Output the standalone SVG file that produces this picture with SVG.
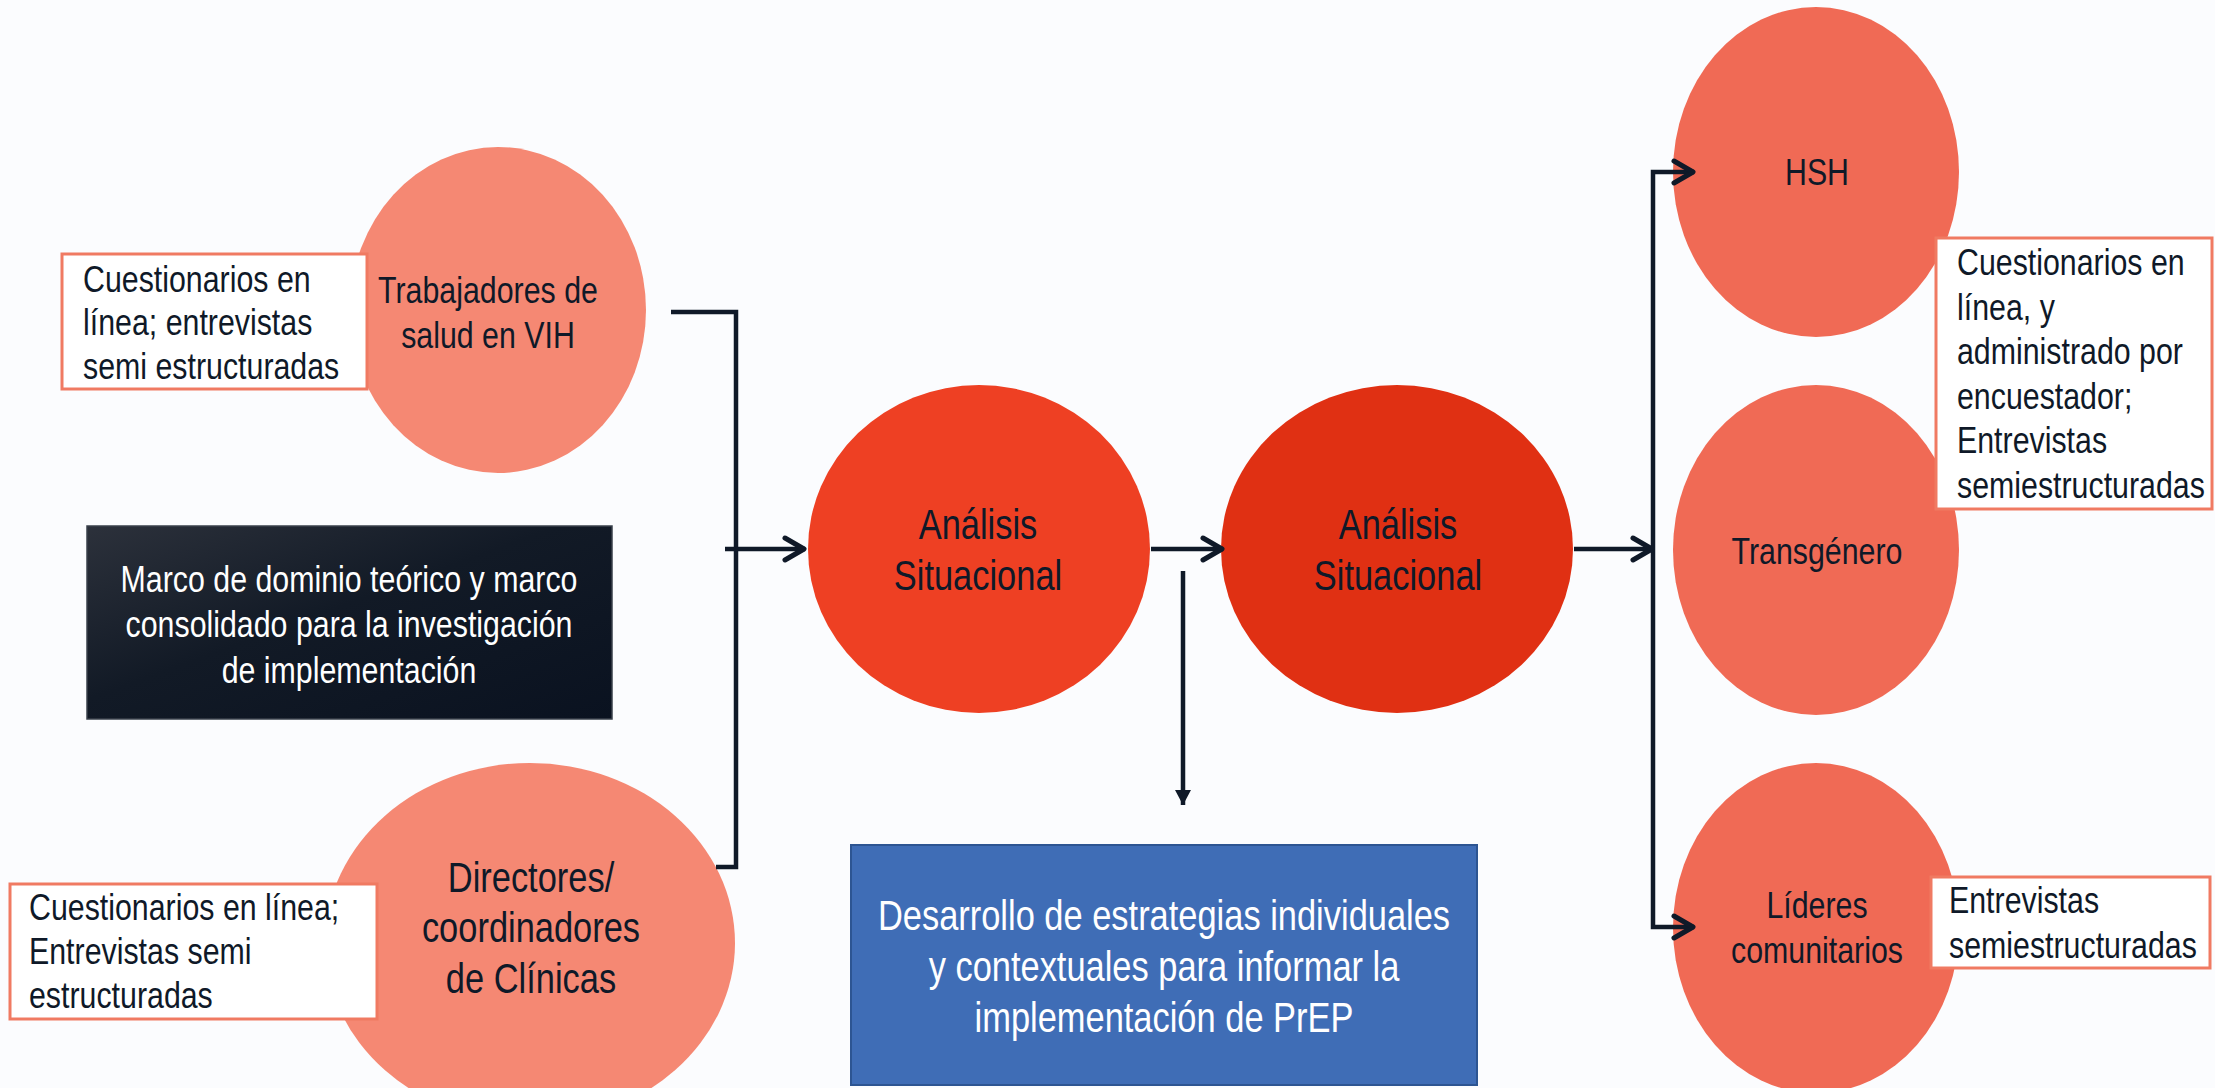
<svg xmlns="http://www.w3.org/2000/svg" width="2215" height="1088" viewBox="0 0 2215 1088">
<defs>
<linearGradient id="dark" x1="0" y1="0" x2="1" y2="1">
<stop offset="0" stop-color="#2C313B"/>
<stop offset="0.45" stop-color="#121A26"/>
<stop offset="1" stop-color="#0A1220"/>
</linearGradient>
<marker id="chev" markerUnits="userSpaceOnUse" viewBox="-28 -16 32 32" markerWidth="32" markerHeight="32" refX="0" refY="0" orient="auto">
<path d="M-20,-11 L-1,0 L-20,11" fill="none" stroke="#0F1928" stroke-width="5" stroke-linecap="round" stroke-linejoin="round"/>
</marker>
<marker id="tri" markerUnits="userSpaceOnUse" viewBox="-17 -10 19 20" markerWidth="19" markerHeight="20" refX="0" refY="0" orient="auto">
<path d="M-15,-8 L0,0 L-15,8 Z" fill="#0F1928"/>
</marker>
</defs>
<style>
.t{font-family:"Liberation Sans",Arial,sans-serif;fill:#0F1928}
.s{font-size:37px}
.l{font-size:42px}
.w{fill:#FFFFFF}
.c{text-anchor:middle}
.note{fill:#FFFFFF;stroke:#F07A62;stroke-width:3}
.conn{fill:none;stroke:#0F1928;stroke-width:4.5}
.pink{fill:#F58873}
.coral{fill:#F06A55}
</style>
<rect width="2215" height="1088" fill="#FBFCFE"/>

<g id="trabajadores">
<ellipse class="pink" cx="498" cy="310" rx="148" ry="163"/>
<text class="t s c" transform="translate(488,303) scale(0.82,1)"><tspan x="0">Trabajadores de</tspan><tspan x="0" dy="45">salud en VIH</tspan></text>
</g>
<g id="note-trabajadores">
<rect class="note" x="62" y="254" width="305" height="135"/>
<text class="t s" transform="translate(83,292) scale(0.82,1)"><tspan x="0">Cuestionarios en</tspan><tspan x="0" dy="43.5">línea; entrevistas</tspan><tspan x="0" dy="43.5">semi estructuradas</tspan></text>
</g>

<g id="directores">
<ellipse class="pink" cx="530" cy="943" rx="205" ry="180"/>
<text class="t l c" transform="translate(531,892) scale(0.82,1)"><tspan x="0">Directores/</tspan><tspan x="0" dy="50.5">coordinadores</tspan><tspan x="0" dy="50.5">de Clínicas</tspan></text>
</g>
<g id="note-directores">
<rect class="note" x="10" y="884" width="367" height="135"/>
<text class="t s" transform="translate(29,920) scale(0.82,1)"><tspan x="0">Cuestionarios en línea;</tspan><tspan x="0" dy="44">Entrevistas semi</tspan><tspan x="0" dy="44">estructuradas</tspan></text>
</g>

<g id="marco">
<rect x="87" y="526" width="525" height="193" fill="url(#dark)" stroke="#3A404B" stroke-width="1.5"/>
<text class="t s c w" transform="translate(349,592) scale(0.82,1)"><tspan x="0">Marco de dominio teórico y marco</tspan><tspan x="0" dy="45.5">consolidado para la investigación</tspan><tspan x="0" dy="45.5">de implementación</tspan></text>
</g>

<g id="analisis1">
<ellipse cx="979" cy="549" rx="171" ry="164" fill="#EE4023"/>
<text class="t l c" transform="translate(978,539) scale(0.82,1)"><tspan x="0">Análisis</tspan><tspan x="0" dy="51">Situacional</tspan></text>
</g>

<g id="analisis2">
<ellipse cx="1397" cy="549" rx="176" ry="164" fill="#E03013"/>
<text class="t l c" transform="translate(1398,539) scale(0.82,1)"><tspan x="0">Análisis</tspan><tspan x="0" dy="51">Situacional</tspan></text>
</g>

<g id="desarrollo">
<rect x="851" y="845" width="626" height="240" fill="#3F6DB6" stroke="#2D5592" stroke-width="2"/>
<text class="t l c w" transform="translate(1164,930) scale(0.82,1)"><tspan x="0">Desarrollo de estrategias individuales</tspan><tspan x="0" dy="51">y contextuales para informar la</tspan><tspan x="0" dy="51">implementación de PrEP</tspan></text>
</g>

<g id="hsh">
<ellipse class="coral" cx="1816" cy="172" rx="143" ry="165"/>
<text class="t s c" transform="translate(1817,185) scale(0.82,1)">HSH</text>
</g>

<g id="transgenero">
<ellipse class="coral" cx="1816" cy="550" rx="143" ry="165"/>
<text class="t s c" transform="translate(1817,564) scale(0.82,1)">Transgénero</text>
</g>

<g id="lideres">
<ellipse class="coral" cx="1816" cy="928" rx="143" ry="165"/>
<text class="t s c" transform="translate(1817,918) scale(0.82,1)"><tspan x="0">Líderes</tspan><tspan x="0" dy="45">comunitarios</tspan></text>
</g>

<g id="note-hsh">
<rect class="note" x="1936" y="238" width="276" height="271"/>
<text class="t s" transform="translate(1957,275) scale(0.82,1)"><tspan x="0">Cuestionarios en</tspan><tspan x="0" dy="44.6">línea, y</tspan><tspan x="0" dy="44.6">administrado por</tspan><tspan x="0" dy="44.6">encuestador;</tspan><tspan x="0" dy="44.6">Entrevistas</tspan><tspan x="0" dy="44.6">semiestructuradas</tspan></text>
</g>

<g id="note-lideres">
<rect class="note" x="1931" y="877" width="279" height="91"/>
<text class="t s" transform="translate(1949,913) scale(0.82,1)"><tspan x="0">Entrevistas</tspan><tspan x="0" dy="45">semiestructuradas</tspan></text>
</g>

<g id="connectors">
<path class="conn" d="M671,312 H736 V867 H716"/>
<path class="conn" d="M725,549 H805" marker-end="url(#chev)"/>
<path class="conn" d="M1151,549 H1223" marker-end="url(#chev)"/>
<path class="conn" d="M1183,571 V805" marker-end="url(#tri)"/>
<path class="conn" d="M1574,549 H1653" marker-end="url(#chev)"/>
<path class="conn" d="M1653,549 V172 H1694" marker-end="url(#chev)"/>
<path class="conn" d="M1653,549 V927 H1694" marker-end="url(#chev)"/>
</g>
</svg>
